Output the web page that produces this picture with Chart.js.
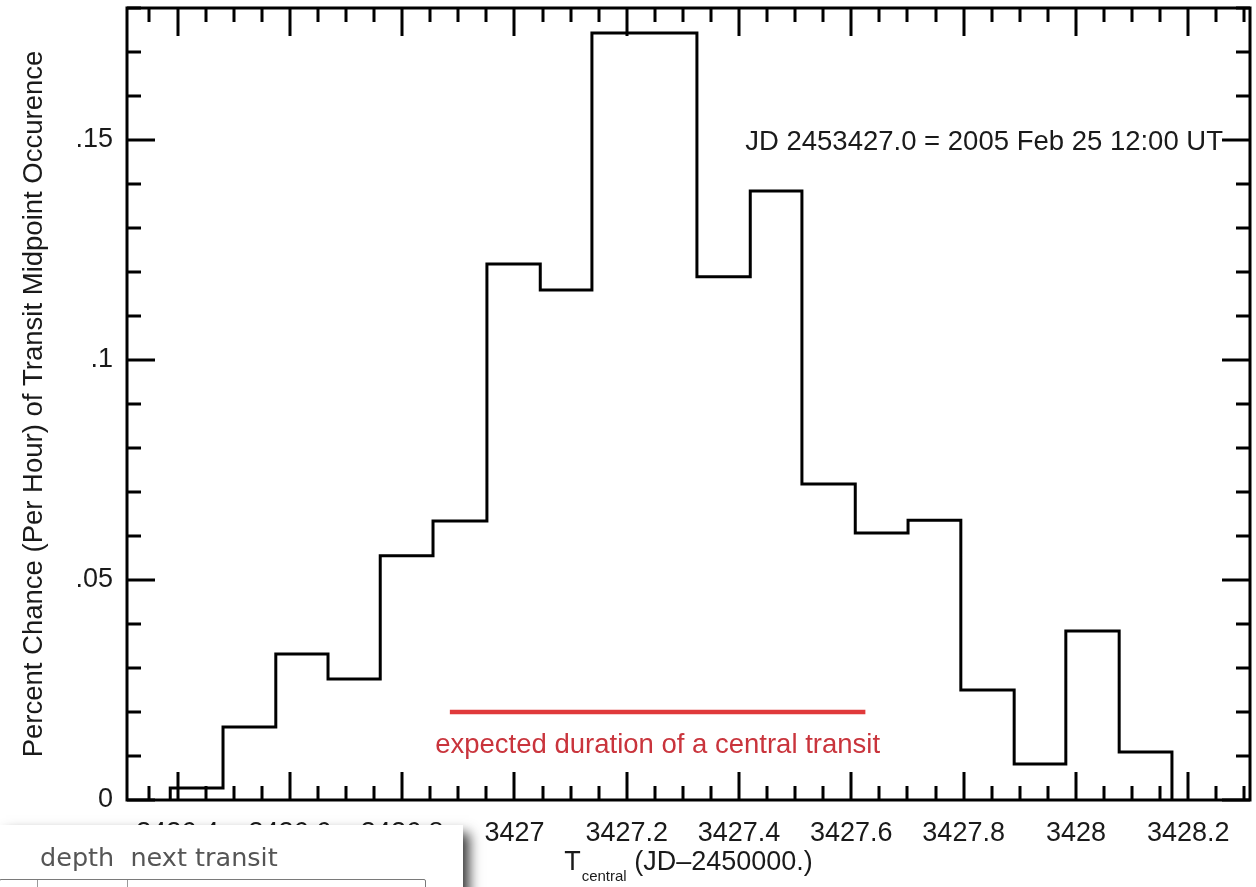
<!DOCTYPE html>
<html>
<head>
<meta charset="utf-8">
<script src="https://cdn.jsdelivr.net/npm/chart.js@4.4.1/dist/chart.umd.min.js"></script>
<style>
  html, body { margin: 0; padding: 0; background: #fff; overflow: hidden; }
  #wrap { position: relative; width: 1256px; height: 887px; }
  canvas { display: block; }
  #panel {
    position: absolute; left: 0; top: 825px; width: 463px; height: 90px;
    background: #fff; box-shadow: 6px 8px 12px rgba(0,0,0,0.8);
  }
  #panel .head {
    position: absolute; left: 40px; top: 17px; white-space: pre;
    font: 25.5px "DejaVu Sans", sans-serif; color: #555;
  }
  #panel .bar {
    position: absolute; left: -1px; top: 54px; width: 425px; height: 14px;
    border: 1px solid #7a7a7a; border-radius: 2px;
  }
  #panel .bar i { position: absolute; top: 0; width: 1px; height: 14px; background: #9a9a9a; }
</style>
</head>
<body>
<div id="wrap">
  <canvas id="c" width="1256" height="887"></canvas>
  <div id="panel">
    <div class="head">depth  next transit</div>
    <div class="bar"><i style="left:37px"></i><i style="left:127px"></i></div>
  </div>
</div>
<script>
// Histogram bin edges (JD - 2450000) and probability per hour in each bin
const binEdges = [
  3426.387, 3426.481, 3426.575, 3426.668, 3426.761, 3426.855, 3426.951,
  3427.046, 3427.138, 3427.233, 3427.325, 3427.420, 3427.512, 3427.607,
  3427.701, 3427.795, 3427.890, 3427.982, 3428.077, 3428.171
];
const chancePerHour = [
  0.0027, 0.0166, 0.0332, 0.0275, 0.0555, 0.0634, 0.1218, 0.1159, 0.1743,
  0.1743, 0.1189, 0.1384, 0.0718, 0.0607, 0.0636, 0.0250, 0.0082, 0.0384, 0.0109
];

// Expected length of a central transit, drawn as a bar
const transitSpan = [3426.885, 3427.625];
const transitLevel = [0.02, 0.02];

// Axis ticks and labels
const xTickValues = [3426.4, 3426.6, 3426.8, 3427, 3427.2, 3427.4, 3427.6, 3427.8, 3428, 3428.2];
const xTickLabels = ['3426.4', '3426.6', '3426.8', '3427', '3427.2', '3427.4', '3427.6', '3427.8', '3428', '3428.2'];
const yTickValues = [0, 0.05, 0.1, 0.15];
const yTickLabels = ['0', '.05', '.1', '.15'];

const FONT = '"Liberation Sans", Arial, Helvetica, sans-serif';
const INK = '#1a1a1a';

// step outline: start on the baseline, one point per bin, close back to zero
const histPoints = [{ x: binEdges[0], y: 0 }];
chancePerHour.forEach((v, i) => histPoints.push({ x: binEdges[i], y: v }));
histPoints.push({ x: binEdges[binEdges.length - 1], y: 0 });

const transitPoints = transitSpan.map((x, i) => ({ x, y: transitLevel[i] }));

// box frame with inward ticks on all four sides, plus annotations
const framePlugin = {
  id: 'frame',
  afterDraw(chart) {
    const { ctx, chartArea: a, scales: { x, y } } = chart;
    ctx.save();
    ctx.strokeStyle = '#000';
    ctx.lineWidth = 3;
    ctx.lineCap = 'butt';
    ctx.strokeRect(a.left, a.top, a.right - a.left, a.bottom - a.top);

    const MAJ = 28, MIN = 14;
    ctx.beginPath();
    for (let k = Math.ceil(x.min / 0.05 - 1e-6); k * 0.05 <= x.max + 1e-9; k++) {
      const px = Math.round(x.getPixelForValue(k * 0.05));
      const len = (k % 4 === 0) ? MAJ : MIN;
      ctx.moveTo(px, a.bottom); ctx.lineTo(px, a.bottom - len);
      ctx.moveTo(px, a.top); ctx.lineTo(px, a.top + len);
    }
    for (let k = Math.ceil(y.min / 0.01 - 1e-6); k * 0.01 <= y.max + 1e-9; k++) {
      const py = Math.round(y.getPixelForValue(k * 0.01));
      const len = (k % 5 === 0) ? MAJ : MIN;
      ctx.moveTo(a.left, py); ctx.lineTo(a.left + len, py);
      ctx.moveTo(a.right, py); ctx.lineTo(a.right - len, py);
    }
    ctx.stroke();

    // date note beside the .15 tick
    ctx.fillStyle = INK;
    ctx.font = '27.5px ' + FONT;
    ctx.textAlign = 'right';
    ctx.textBaseline = 'alphabetic';
    ctx.fillText('JD 2453427.0 = 2005 Feb 25 12:00 UT', a.right - MAJ + 1, y.getPixelForValue(0.15) + 10);

    // caption under the transit bar
    ctx.fillStyle = '#c9343c';
    ctx.textAlign = 'center';
    ctx.font = '27.5px ' + FONT;
    const cx = (x.getPixelForValue(transitSpan[0]) + x.getPixelForValue(transitSpan[1])) / 2;
    ctx.fillText('expected duration of a central transit', cx, y.getPixelForValue(transitLevel[0]) + 41);

    // x-axis title with subscript
    ctx.fillStyle = INK;
    ctx.textAlign = 'left';
    const bigFont = '27px ' + FONT, subFont = '15px ' + FONT;
    ctx.font = bigFont;
    const wT = ctx.measureText('T').width;
    const rest = ' (JD\u20132450000.)';
    const wRest = ctx.measureText(rest).width;
    ctx.font = subFont;
    const wSub = ctx.measureText('central').width;
    let tx = (a.left + a.right) / 2 - (wT + 1 + wSub + wRest) / 2;
    const base = a.bottom + 70;
    ctx.font = bigFont; ctx.fillText('T', tx, base); tx += wT + 1;
    ctx.font = subFont; ctx.fillText('central', tx, base + 11); tx += wSub;
    ctx.font = bigFont; ctx.fillText(rest, tx, base);
    ctx.restore();
  }
};

new Chart(document.getElementById('c'), {
  type: 'line',
  data: {
    datasets: [
      {
        data: histPoints,
        stepped: 'before',
        borderColor: '#000',
        borderWidth: 3,
        pointRadius: 0,
        fill: false
      },
      {
        data: transitPoints,
        borderColor: '#e0393b',
        borderWidth: 4.5,
        pointRadius: 0,
        fill: false
      }
    ]
  },
  options: {
    responsive: false,
    devicePixelRatio: 1,
    animation: false,
    parsing: false,
    layout: { padding: { top: 8, right: 6, left: 0, bottom: 0 } },
    plugins: { legend: { display: false }, tooltip: { enabled: false } },
    scales: {
      x: {
        type: 'linear',
        min: 3426.31,
        max: 3428.31,
        grid: { display: false, drawTicks: false },
        border: { display: false },
        afterBuildTicks: s => { s.ticks = xTickValues.map(v => ({ value: v })); },
        afterFit: s => { s.height = 87; s.paddingLeft = 0; s.paddingRight = 0; },
        ticks: {
          autoSkip: false, maxRotation: 0, minRotation: 0, padding: 17,
          color: INK, font: { family: FONT, size: 27 },
          callback: (v, i) => xTickLabels[i]
        }
      },
      y: {
        type: 'linear',
        min: 0,
        max: 0.18,
        grid: { display: false, drawTicks: false },
        border: { display: false },
        afterBuildTicks: s => { s.ticks = yTickValues.map(v => ({ value: v })); },
        afterFit: s => { s.width = 127; s.paddingTop = 0; s.paddingBottom = 0; },
        ticks: {
          padding: 14, color: INK, font: { family: FONT, size: 27 },
          callback: (v, i) => yTickLabels[i]
        },
        title: {
          display: true,
          text: 'Percent Chance (Per Hour) of Transit Midpoint Occurence',
          color: INK,
          font: { family: FONT, size: 27.5 },
          padding: { top: 18, bottom: 0 }
        }
      }
    }
  },
  plugins: [framePlugin]
});
</script>
</body>
</html>
